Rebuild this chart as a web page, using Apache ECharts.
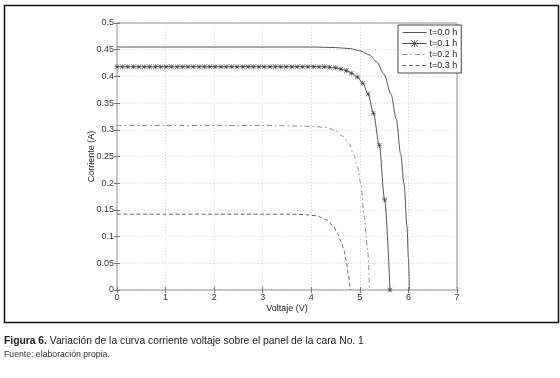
<!DOCTYPE html>
<html>
<head>
<meta charset="utf-8">
<script src="https://cdn.jsdelivr.net/npm/echarts@6/dist/echarts.min.js"></script>
<style>
  html, body { margin: 0; padding: 0; background: #fff; }
  #chart { width: 560px; height: 378px; }
</style>
</head>
<body>
<div id="chart"></div>
<script>
// curva I-V, t = 0.0 h (linea continua)
var v00 = [0, 1, 2, 3, 4, 4.5, 4.8, 5.0, 5.2, 5.35, 5.5, 5.64, 5.75, 5.84, 5.91, 5.97, 6.0, 6.02]
var i00 = [0.455, 0.455, 0.455, 0.455, 0.455, 0.454, 0.452, 0.448, 0.440, 0.427, 0.404, 0.367, 0.320, 0.255, 0.199, 0.120, 0.060, 0]

// t = 0.1 h (con marcadores *)
var v01 = [0, 0.11, 0.22, 0.34, 0.45, 0.56, 0.67, 0.79, 0.90, 1.01,
  1.12, 1.24, 1.35, 1.46, 1.57, 1.69, 1.80, 1.91, 2.02, 2.14,
  2.25, 2.36, 2.47, 2.59, 2.70, 2.81, 2.92, 3.03, 3.15, 3.26,
  3.37, 3.48, 3.60, 3.71, 3.82, 3.93, 4.05, 4.16, 4.27, 4.38,
  4.50, 4.61, 4.72, 4.83, 4.95, 5.06, 5.17, 5.28, 5.40, 5.51, 5.62]
var i01 = [0.418, 0.418, 0.418, 0.418, 0.418, 0.418, 0.418, 0.418, 0.418, 0.418,
  0.418, 0.418, 0.418, 0.418, 0.418, 0.418, 0.418, 0.418, 0.418, 0.418,
  0.418, 0.418, 0.418, 0.418, 0.418, 0.418, 0.418, 0.418, 0.418, 0.418,
  0.418, 0.418, 0.418, 0.418, 0.418, 0.418, 0.418, 0.418, 0.418, 0.417,
  0.416, 0.414, 0.411, 0.406, 0.399, 0.387, 0.367, 0.331, 0.271, 0.169, 0]

// t = 0.2 h (raya-punto)
var v02 = [0, 1, 2, 3, 3.8, 4.1, 4.33, 4.5, 4.65, 4.78, 4.88, 4.95, 5.02, 5.09, 5.16, 5.2]
var i02 = [0.308, 0.308, 0.308, 0.308, 0.307, 0.306, 0.304, 0.298, 0.288, 0.274, 0.252, 0.230, 0.199, 0.137, 0.075, 0]

// t = 0.3 h (discontinua)
var v03 = [0, 1, 2, 3, 3.6, 3.9, 4.1, 4.33, 4.45, 4.54, 4.62, 4.67, 4.72, 4.76, 4.8]
var i03 = [0.142, 0.142, 0.142, 0.142, 0.142, 0.141, 0.139, 0.131, 0.120, 0.106, 0.090, 0.075, 0.055, 0.031, 0]

var seriesNames = ['t=0.0 h', 't=0.1 h', 't=0.2 h', 't=0.3 h']

function pairs(xs, ys) {
  return xs.map(function (x, k) { return [x, ys[k]] })
}

var font = '"Liberation Sans", Arial, sans-serif'
var star = 'path://M4.5 0H5.5V10H4.5Z M0 4.5H10V5.5H0Z M0.7 0L10 9.3L9.3 10L0 0.7Z M9.3 0L10 0.7L0.7 10L0 9.3Z'

var chart = echarts.init(document.getElementById('chart'))

var tickStyle = { show: true, inside: true, length: 3, lineStyle: { color: '#777' } }
var gridLines = { show: true, lineStyle: { color: '#d4d4d4', type: [1, 2] } }
var noMarker = { opacity: 0 }

chart.setOption({
  animation: false,
  textStyle: { fontFamily: font },
  grid: {
    left: 117, right: 103, top: 23, bottom: 88,
    show: true, borderColor: '#888', borderWidth: 1
  },
  legend: {
    data: [
      { name: seriesNames[0], itemStyle: noMarker },
      { name: seriesNames[1] },
      { name: seriesNames[2], itemStyle: noMarker },
      { name: seriesNames[3], itemStyle: noMarker }
    ],
    orient: 'vertical',
    left: 398, top: 25,
    padding: [3, 4, 3, 4],
    itemGap: 2,
    itemWidth: 24, itemHeight: 9,
    lineStyle: { width: 1 },
    backgroundColor: '#fff',
    borderColor: '#444', borderWidth: 1,
    textStyle: { fontSize: 9, color: '#222', padding: [0, 0, 0, -2] }
  },
  xAxis: [{
    type: 'value', min: 0, max: 7, interval: 1,
    name: 'Voltaje (V)', nameLocation: 'middle', nameGap: 14, nameMoveOverlap: false,
    nameTextStyle: { fontSize: 9, color: '#222' },
    axisLine: { show: false },
    axisTick: tickStyle,
    axisLabel: { fontSize: 9, color: '#333', margin: 3 },
    splitLine: gridLines
  }, {
    type: 'value', min: 0, max: 7, interval: 1, position: 'top',
    axisLine: { show: false }, axisTick: tickStyle,
    axisLabel: { show: false }, splitLine: { show: false }
  }],
  yAxis: [{
    type: 'value', min: 0, max: 0.5, interval: 0.05,
    name: 'Corriente (A)', nameLocation: 'middle', nameGap: 21, nameMoveOverlap: false,
    nameTextStyle: { fontSize: 9, color: '#222' },
    axisLine: { show: false },
    axisTick: tickStyle,
    axisLabel: { fontSize: 9, color: '#333', margin: 3 },
    splitLine: gridLines
  }, {
    type: 'value', min: 0, max: 0.5, interval: 0.05, position: 'right',
    axisLine: { show: false }, axisTick: tickStyle,
    axisLabel: { show: false }, splitLine: { show: false }
  }],
  series: [{
    name: seriesNames[0], type: 'line', symbol: 'none',
    smooth: 0.3, smoothMonotone: 'x',
    lineStyle: { color: '#555', width: 1 },
    itemStyle: { color: '#555' },
    data: pairs(v00, i00)
  }, {
    name: seriesNames[1], type: 'line', symbol: star, symbolSize: 5,
    smooth: 0.3, smoothMonotone: 'x',
    lineStyle: { color: '#555', width: 1 },
    itemStyle: { color: '#444' },
    data: pairs(v01, i01)
  }, {
    name: seriesNames[2], type: 'line', symbol: 'none',
    smooth: 0.3, smoothMonotone: 'x',
    lineStyle: { color: '#888', width: 1, type: [5, 3, 1.5, 3] },
    itemStyle: { color: '#888' },
    data: pairs(v02, i02)
  }, {
    name: seriesNames[3], type: 'line', symbol: 'none',
    smooth: 0.3, smoothMonotone: 'x',
    lineStyle: { color: '#666', width: 1, type: [4, 2.5] },
    itemStyle: { color: '#666' },
    data: pairs(v03, i03)
  }],
  graphic: [{
    type: 'rect', left: 2, top: 3, silent: true,
    shape: { width: 554, height: 317 },
    style: { fill: 'none', stroke: '#111', lineWidth: 1.5 }
  }, {
    type: 'text', left: 4, top: 336,
    style: {
      text: '{b|Figura 6.} Variación de la curva corriente voltaje sobre el panel de la cara No. 1',
      font: '10.3px ' + font, fill: '#222',
      rich: { b: { fontWeight: 'bold', fontSize: 10.3, fontFamily: font, fill: '#222' } }
    }
  }, {
    type: 'text', left: 4, top: 350,
    style: { text: 'Fuente: elaboración propia.', font: '8.7px ' + font, fill: '#333' }
  }]
})
</script>
</body>
</html>
